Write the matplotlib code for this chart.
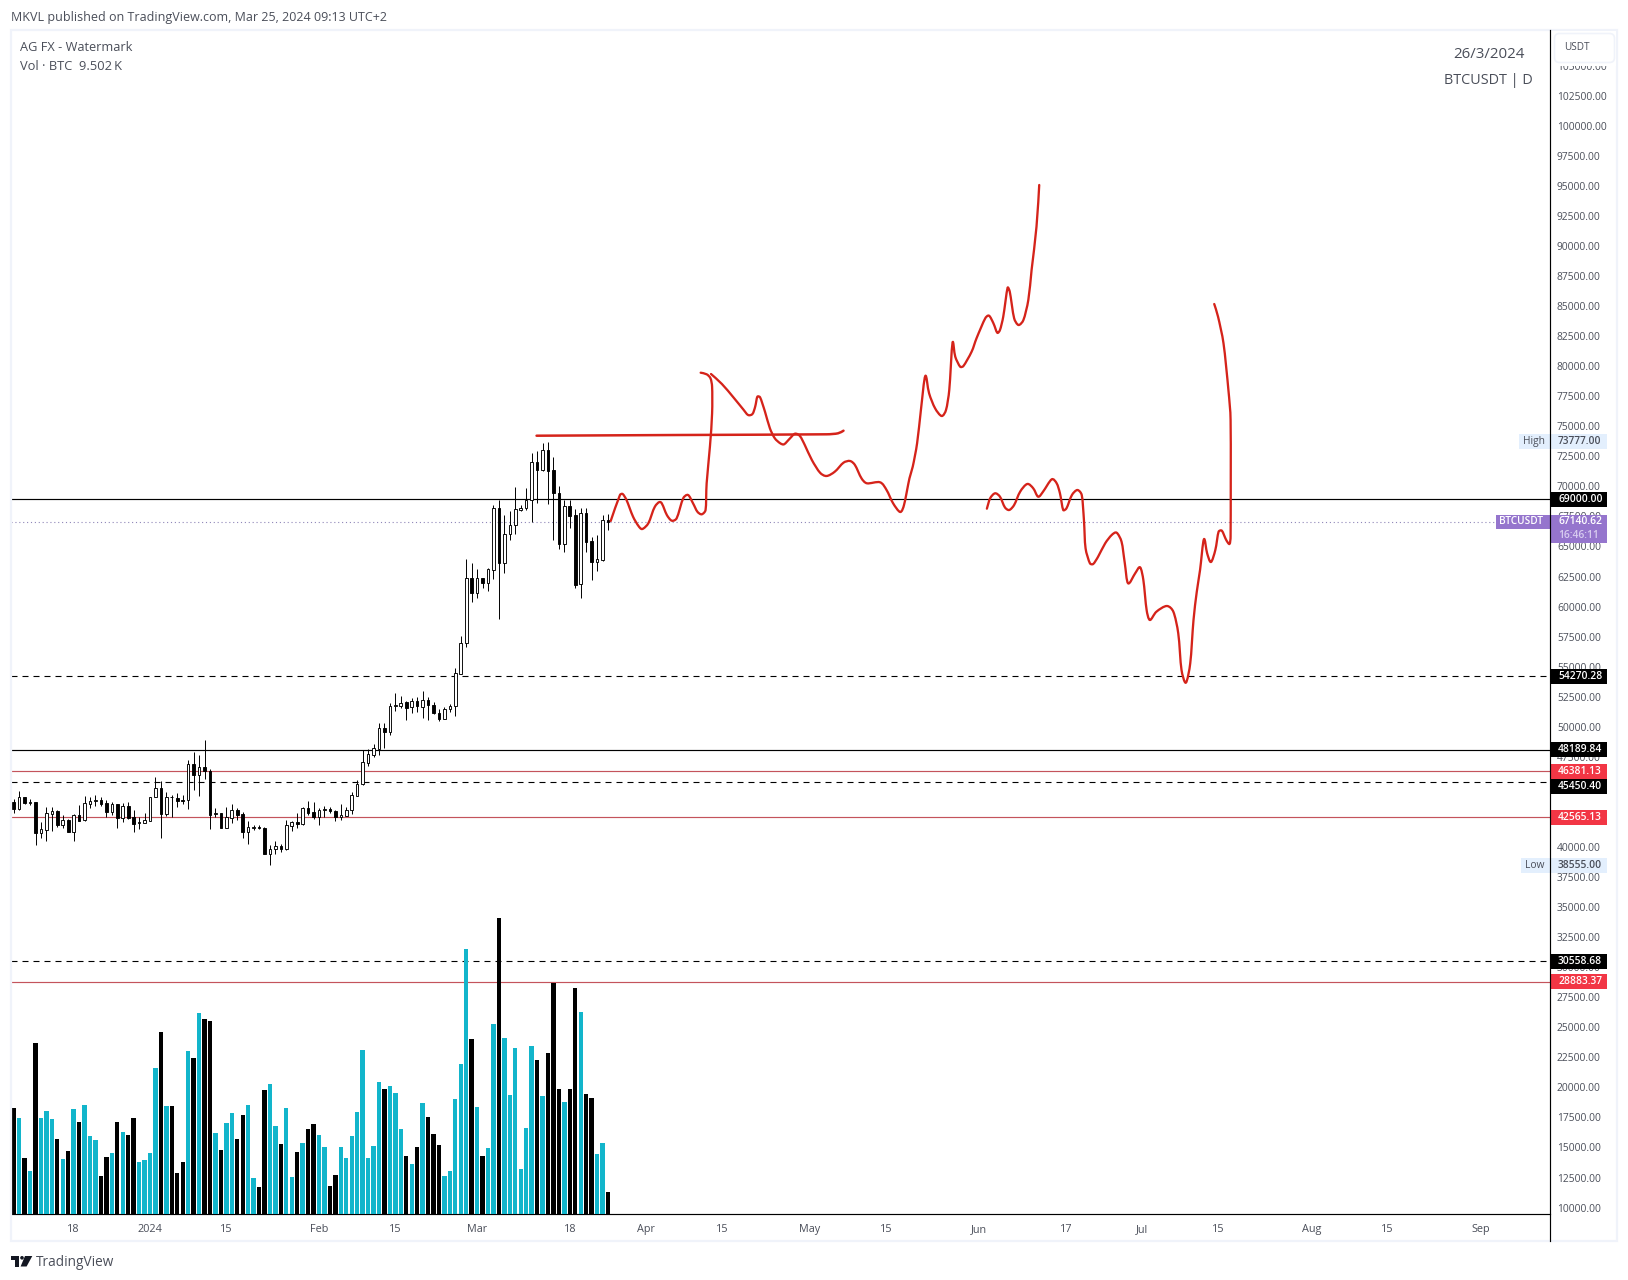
import matplotlib
matplotlib.use('Agg')
import matplotlib.pyplot as plt
import numpy as np
from matplotlib.patches import Rectangle, Polygon, Circle, FancyBboxPatch, PathPatch
from matplotlib.path import Path
from matplotlib.transforms import ScaledTranslation

plt.rcParams['font.family'] = ['Open Sans', 'DejaVu Sans']

# daily candles, day 0 = 1 Jan 2024
first_day = -25
opens = [43830, 43250, 44220, 43770, 43800, 41280, 41530, 42830, 43080, 41940,
         42330, 41360, 42750, 42300, 43690, 43880, 43990, 43750, 43000, 43630,
         42530, 43470, 42550, 42110, 42110, 42280, 44220, 44970, 42800, 44270,
         44160, 43990, 43970, 46960, 46100, 46710, 46380, 42860, 42890, 41690,
         42530, 43160, 42830, 41360, 41690, 41720, 41670, 39530, 39890, 40170,
         39920, 41860, 42140, 42030, 43330, 42970, 42610, 43140, 43250, 43080,
         42580, 42690, 43140, 44360, 45300, 47100, 47770, 48240, 49960, 49680,
         51790, 51840, 52150, 51700, 52200, 51760, 52290, 51870, 51260, 50730,
         51590, 51790, 54500, 57030, 62440, 61190, 62440, 62020, 63160, 68260,
         63740, 66100, 66840, 68090, 68310, 68920, 72090, 71450, 73080, 71420,
         69510, 65320, 68430, 67680, 61940, 67840, 65540, 63820, 63960, 67260]
highs = [44050, 44710, 44270, 44050, 43830, 42140, 43440, 43440, 43160, 42750,
         42390, 42800, 43550, 44300, 44220, 44380, 44220, 43970, 43830, 43660,
         43750, 43860, 43160, 42580, 42940, 44240, 45880, 45550, 44690, 44410,
         44550, 44410, 47320, 47960, 47740, 48960, 46550, 43330, 42940, 43410,
         43660, 43300, 43000, 42250, 41940, 41890, 41780, 40250, 40560, 40330,
         42300, 42250, 42910, 43410, 43910, 43830, 43300, 43500, 43410, 43160,
         43630, 43410, 44690, 45660, 48150, 48210, 48630, 50430, 50370, 52040,
         52870, 52650, 52260, 52450, 52530, 53060, 52540, 52180, 51590, 51700,
         51950, 54950, 57640, 64020, 63680, 63210, 62490, 63270, 68540, 68950,
         67700, 68010, 70000, 68540, 69920, 72860, 73000, 73670, 73780, 72500,
         70120, 68950, 68950, 68180, 68260, 68260, 65900, 66040, 67680, 67790]
lows = [42940, 43160, 43660, 43610, 40280, 40810, 40610, 41440, 41780, 41690,
        41330, 40610, 42220, 42280, 43360, 43520, 43500, 42580, 42770, 41690,
        42190, 42390, 41360, 41610, 42050, 42270, 44210, 40860, 42690, 42550,
        43440, 43690, 43270, 44830, 44330, 45710, 41610, 42580, 41680, 41680,
        42110, 42300, 40810, 40360, 41530, 41610, 39520, 38555, 39530, 39670,
        39860, 41440, 41670, 41890, 42770, 42390, 41910, 42610, 42940, 42280,
        42330, 42660, 42830, 44350, 45270, 46850, 47570, 47770, 48320, 49370,
        51400, 51650, 50680, 51260, 51340, 50840, 50680, 51150, 50590, 50700,
        51340, 51010, 54480, 56750, 60490, 60830, 61660, 61410, 62410, 59080,
        62910, 65620, 66150, 68010, 68150, 67150, 68730, 71390, 68650, 65620,
        64900, 64650, 66650, 61600, 60830, 64650, 62320, 63050, 63850, 66460]
closes = [43250, 44220, 43720, 43830, 41280, 41580, 42890, 43050, 41910, 42300,
          41360, 42750, 42280, 43720, 43880, 43970, 43690, 43000, 43630, 42530,
          43470, 42470, 42030, 42160, 42300, 44220, 44970, 42860, 44220, 44220,
          43940, 43940, 46960, 46100, 46710, 46380, 42770, 42910, 41690, 42550,
          43140, 42770, 41360, 41720, 41750, 41640, 39530, 39890, 40140, 39950,
          41890, 42140, 42030, 43330, 42940, 42580, 43140, 43220, 43050, 42580,
          42720, 43140, 44380, 45300, 47130, 47790, 48290, 49960, 49680, 51790,
          51870, 52090, 51680, 52230, 51790, 52290, 51870, 51260, 50730, 51590,
          51810, 54530, 57030, 62440, 61190, 62440, 62020, 63180, 68260, 63740,
          66100, 66840, 68170, 68310, 68950, 72090, 71450, 73080, 71390, 69510,
          65320, 68430, 67650, 61880, 67840, 65490, 63820, 64020, 67260, 67140]
# volume in thousands of BTC
volumes = [45.3, 41.0, 24.0, 18.5, 73.0, 41.0, 44.0, 40.6, 32.1, 23.6,
           27.0, 44.9, 39.3, 46.6, 33.4, 31.7, 16.3, 24.4, 26.1, 39.3,
           35.1, 33.8, 41.0, 22.3, 23.1, 26.1, 62.3, 77.7, 46.2, 46.2,
           17.6, 22.3, 69.6, 66.6, 85.8, 83.2, 82.4, 34.6, 27.4, 38.9,
           43.2, 32.1, 42.3, 46.6, 15.5, 11.6, 53.0, 55.5, 37.6, 30.0,
           45.3, 15.9, 26.6, 30.4, 36.4, 38.5, 33.8, 28.7, 12.1, 16.8,
           28.7, 24.0, 33.4, 43.6, 70.0, 24.0, 29.1, 56.4, 53.4, 54.7,
           51.7, 36.4, 24.9, 21.4, 28.7, 47.4, 41.5, 34.2, 29.5, 16.3,
           18.5, 49.1, 64.0, 113.0, 74.7, 45.7, 24.9, 28.3, 81.1, 126.1,
           75.1, 50.8, 70.9, 19.3, 36.8, 71.7, 65.7, 50.4, 68.7, 98.5,
           53.4, 47.9, 53.4, 96.4, 86.2, 51.3, 49.6, 25.7, 30.4, 9.5]

# hand drawn red strokes: day, price
stroke1_days = [84.5, 86.2, 86.7, 87.4, 88.6, 89.6, 90.3, 91.4, 92.6, 93.7, 94.8, 95.7, 96.6,
                97.8, 98.7, 99.6, 100.4, 101.2, 101.9, 102.1, 102.7, 103.1, 103.1, 102.8, 102.1, 101.0]
stroke1_prices = [67204, 69367, 69450, 68952, 67563, 66787, 66538, 67012, 68393, 68760, 67703, 67230, 67430,
                  69093, 69367, 68677, 67978, 67762, 68120, 70341, 73385, 76164, 78377, 79076, 79409, 79542]
stroke2_days = [102.9, 104.9, 107.0, 108.8, 109.7, 110.5, 111.0, 111.4, 111.9, 112.8, 113.7, 114.6, 115.6,
                116.3, 117.4, 118.3, 119.2, 120.1, 121.4, 122.9, 124.1, 125.6, 127.2, 128.4, 129.3, 130.5,
                131.5, 133.9, 135.1, 136.3, 137.6, 138.3, 139.3, 139.9, 140.7, 141.4, 142.2, 142.9, 144.0,
                145.2, 146.0, 146.6, 147.2, 147.7, 148.6, 149.2, 150.7, 151.6, 153.2, 153.9, 154.7, 155.4,
                155.9, 156.5, 157.3, 157.7, 158.5, 159.3, 160.2, 161.1, 161.7, 162.6, 163.1]
stroke2_prices = [79434, 78601, 77495, 76497, 76023, 76106, 76713, 77545, 77495, 76298, 74917, 74085, 73669,
                  73586, 74085, 74467, 74276, 73527, 72279, 71222, 70949, 71306, 72056, 72197, 71863, 70757,
                  70340, 70425, 69783, 68677, 67953, 68536, 70757, 71722, 73669, 76439, 79268, 77829, 76581,
                  75940, 76439, 78103, 82038, 80873, 80041, 80100, 81290, 82404, 84067, 84284, 83651, 82869,
                  83095, 84200, 86614, 86281, 84067, 83510, 83926, 85590, 88086, 91689, 95158]
stroke3_days = [70.9, 97.2, 124.1, 126.2, 127.2]
stroke3_prices = [74300, 74359, 74417, 74500, 74717]
stroke4_days = [153.5, 154.1, 155.0, 155.9, 156.8, 157.6, 158.5, 159.6, 160.9, 162.0, 162.9, 163.8, 165.4,
                166.3, 166.9, 167.5, 168.1, 169.1, 170.1, 170.9, 171.3, 171.6, 172.4, 173.0, 173.9, 175.2,
                176.4, 177.3, 178.2, 178.8, 179.4, 180.7, 181.6, 182.2, 182.8, 183.4, 184.6, 186.5, 187.7,
                188.6, 189.2, 190.0, 190.8, 191.4, 192.0, 192.6, 193.3, 193.9, 194.6, 195.4, 196.0, 196.6,
                197.4, 198.0, 198.2, 198.2, 197.8, 196.9, 195.9, 195.2]
stroke4_prices = [68228, 69093, 69509, 69226, 68344, 68120, 68536, 69643, 70283, 69925, 69226, 69643, 70674,
                  70341, 69509, 68120, 68260, 69367, 69783, 69367, 67288, 64933, 63685, 63627, 64234, 65349,
                  66040, 66230, 65482, 63685, 62021, 62853, 63353, 62296, 59800, 58968, 59659, 60133, 59659,
                  57861, 54809, 53752, 55365, 58968, 61322, 63127, 65680, 64516, 63792, 64791, 66314, 66397,
                  65623, 65291, 65898, 75607, 78103, 81988, 84200, 85257]

# horizontal levels
solid_levels = [69000.00, 48189.84]
dashed_levels = [54270.28, 45450.40, 30558.68]
red_levels = [46381.13, 42565.13, 28883.37]
last_price = 67140.62

# axis ticks
price_ticks = list(range(10000, 105001, 2500))
date_ticks = [-14, 0, 14, 31, 45, 60, 77, 91, 105, 121, 135, 152, 168, 182, 196, 213, 227, 244]
date_labels = ['18', '2024', '15', 'Feb', '15', 'Mar', '18', 'Apr', '15', 'May', '15',
               'Jun', '17', 'Jul', '15', 'Aug', '15', 'Sep']

W, H = 1628, 1280
left, right, top, bottom = 11, 1550, 30, 1214
pos = [left / W, (H - bottom) / H, (right - left) / W, (bottom - top) / H]
xlim = ((left - 150) / 5.452, (right - 150) / 5.452)
ylim = (9550, 108053)
TEXT = '#4a4e59'

fig = plt.figure(figsize=(W / 100, H / 100), dpi=100, facecolor='white')
ax = fig.add_axes(pos, zorder=1)
ax.set_xlim(xlim)
ax.set_ylim(ylim)

days = first_day + np.arange(len(opens))
opens = np.array(opens)
closes = np.array(closes)
up = closes >= opens

# levels go under everything
for p in solid_levels:
    ax.axhline(p, color='black', lw=0.85, zorder=1)
for p in dashed_levels:
    ax.axhline(p, color='black', lw=0.8, ls=(0, (5.4, 4.5)), zorder=1)
for p in red_levels:
    ax.axhline(p, color='#c4545c', lw=0.85, zorder=1)
ax.plot([xlim[0], (1496 - 150) / 5.452], [last_price, last_price], color='#8f86b8', lw=0.8,
        ls=(0, (1, 2.5)), zorder=1)

# candles
ax.vlines(days, lows, highs, color='black', lw=0.7, zorder=2)
ax.bar(days, np.abs(closes - opens), bottom=np.minimum(opens, closes), width=0.48,
       color=['white' if u else 'black' for u in up], edgecolor='black', lw=0.65, zorder=3)


def smooth_stroke(xs, ys, lw):
    # bezier through the read points so the pen line is not angular
    pts = np.column_stack([xs, ys])
    scale = np.array([5.452, 1 / 83.2])  # data to pixels, to compare lengths

    def handle(tangent, seg):
        # a handle longer than a third of its segment overshoots at sharp corners
        n = np.linalg.norm(tangent * scale)
        m = np.linalg.norm(seg * scale) / 3
        return tangent * (m / n) if n > m else tangent

    verts = [pts[0]]
    codes = [Path.MOVETO]
    for i in range(len(pts) - 1):
        p0 = pts[max(i - 1, 0)]
        p1 = pts[i]
        p2 = pts[i + 1]
        p3 = pts[min(i + 2, len(pts) - 1)]
        verts += [p1 + handle((p2 - p0) / 6, p2 - p1), p2 - handle((p3 - p1) / 6, p2 - p1), p2]
        codes += [Path.CURVE4, Path.CURVE4, Path.CURVE4]
    ax.add_patch(PathPatch(Path(verts, codes), fill=False, edgecolor='#d5231a', lw=lw,
                           capstyle='round', joinstyle='round', zorder=5))


smooth_stroke(stroke1_days, stroke1_prices, 1.65)
smooth_stroke(stroke2_days, stroke2_prices, 1.65)
smooth_stroke(stroke3_days, stroke3_prices, 1.8)
smooth_stroke(stroke4_days, stroke4_prices, 1.65)

ax.yaxis.tick_right()
ax.set_yticks(price_ticks)
ax.set_yticklabels(['%.2f' % p for p in price_ticks], fontsize=7.4, color=TEXT)
ax.set_xticks(date_ticks)
ax.set_xticklabels(date_labels, fontsize=7.8, color=TEXT)
ax.tick_params(axis='y', length=0, pad=5)
ax.tick_params(axis='x', length=0, pad=7)
up_1px = ScaledTranslation(0, 1 / 100, fig.dpi_scale_trans)
for lab in ax.get_yticklabels():
    lab.set_transform(lab.get_transform() + up_1px)
for side in ['top', 'left', 'right']:
    ax.spines[side].set_visible(False)
ax.spines['bottom'].set_linewidth(0.85)

# volume on its own scale, same baseline
ax_vol = fig.add_axes(pos, zorder=2)
ax_vol.patch.set_alpha(0)
ax_vol.axis('off')
ax_vol.set_xlim(xlim)
ax_vol.set_ylim(0, 504.4)
ax_vol.bar(days, volumes, width=0.8, color=['#12b5cb' if u else 'black' for u in up], lw=0)

# badges sit on top of the tick labels
ax_top = fig.add_axes(pos, zorder=3)
ax_top.patch.set_alpha(0)
ax_top.axis('off')
ax_top.set_xlim(xlim)
ax_top.set_ylim(ylim)
trans = ax_top.get_yaxis_transform()
per_px = (ylim[1] - ylim[0]) / (bottom - top)


def fx(px):
    return (px - left) / (right - left)


def badge(price, label, bg, fg='white', x0=1550, x1=1607, h=15, shift=0):
    # shift in pixels: the chart pushes a label down when it would hit its neighbour
    y = price - shift * per_px
    ax_top.add_patch(Rectangle((fx(x0), y - h / 2 * per_px), fx(x1) - fx(x0), h * per_px,
                               facecolor=bg, edgecolor='none', transform=trans, clip_on=False, zorder=4))
    ax_top.text(fx(1558), y, label, color=fg, fontsize=7.4, va='center', ha='left',
                fontweight='semibold', transform=trans, clip_on=False, zorder=5)


for p in solid_levels + dashed_levels:
    badge(p, '%.2f' % p, 'black', shift=4 if p == 45450.40 else 0)
for p in red_levels:
    badge(p, '%.2f' % p, '#f23645')

badge(73777, '73777.00', '#e3effd', '#4a4e59', x0=1519)
ax_top.text(fx(1523), 73777, 'High', color=TEXT, fontsize=7.4, va='center', transform=trans, clip_on=False, zorder=5)
badge(38555, '38555.00', '#e3effd', '#4a4e59', x0=1521)
ax_top.text(fx(1525), 38555, 'Low', color=TEXT, fontsize=7.4, va='center', transform=trans, clip_on=False, zorder=5)

# last price tag, two rows
ax_top.add_patch(Rectangle((fx(1496), last_price - 7 * per_px), fx(1550) - fx(1496), 14 * per_px,
                           facecolor='#9575cd', edgecolor='none', transform=trans, clip_on=False, zorder=4))
ax_top.add_patch(Rectangle((fx(1550), last_price - 21 * per_px), fx(1607) - fx(1550), 28 * per_px,
                           facecolor='#9575cd', edgecolor='none', transform=trans, clip_on=False, zorder=4))
ax_top.text(fx(1499), last_price, 'BTCUSDT', color='white', fontsize=7.2, va='center', fontweight='semibold',
            transform=trans, clip_on=False, zorder=5)
ax_top.text(fx(1558), last_price, '%.2f' % last_price, color='white', fontsize=7.4, va='center',
            fontweight='semibold', transform=trans, clip_on=False, zorder=5)
ax_top.text(fx(1558), last_price - 13.5 * per_px, '16:46:11', color='#d9cdf0', fontsize=7.4, va='center',
            fontweight='semibold', transform=trans, clip_on=False, zorder=5)

# frame, header, logo in pixel coordinates
ax_px = fig.add_axes([0, 0, 1, 1], zorder=4)
ax_px.patch.set_alpha(0)
ax_px.axis('off')
ax_px.set_xlim(0, W)
ax_px.set_ylim(H, 0)
ax_px.add_patch(Rectangle((11, 30), 1606, 1211, fill=False, edgecolor='#f0f3fa', lw=1.6))
ax_px.plot([1550, 1550], [30, 1241], color='black', lw=0.85)
ax_px.add_patch(Rectangle((1551, 31), 65, 34.5, facecolor='white', edgecolor='none'))
ax_px.add_patch(FancyBboxPatch((1556, 35), 57, 26, boxstyle='round,pad=1.5,rounding_size=5',
                               facecolor='white', edgecolor='#f0f3fa', lw=1.2))
ax_px.text(1564, 48, 'USDT', fontsize=7.2, color=TEXT, va='center')
ax_px.text(11, 18, 'MKVL published on TradingView.com, Mar 25, 2024 09:13 UTC+2', fontsize=9.0,
           color=TEXT, va='center')
ax_px.text(20, 47.5, 'AG FX - Watermark', fontsize=9.2, color=TEXT, va='center')
ax_px.text(20, 66.5, 'Vol \u00b7 BTC  9.502\u2009K', fontsize=9.3, color=TEXT, va='center')
ax_px.text(1525, 54, '26/3/2024', fontsize=10.8, color=TEXT, va='center', ha='right')
ax_px.text(1533, 80, 'BTCUSDT | D', fontsize=10.4, color=TEXT, va='center', ha='right')

ax_px.add_patch(Polygon([(11, 1256), (19, 1256), (19, 1266.5), (15, 1266.5), (15, 1259.7), (11, 1259.7)],
                        facecolor='#131722', edgecolor='none'))
ax_px.add_patch(Circle((22, 1257.8), 1.8, facecolor='#131722', edgecolor='none'))
ax_px.add_patch(Polygon([(25, 1256), (32.3, 1256), (26.6, 1266.5), (20.6, 1266.5)], facecolor='#131722',
                        edgecolor='none'))
ax_px.text(36, 1262.5, 'TradingView', fontsize=9.8, color=TEXT, va='center')

fig.savefig('out.png', dpi=100)
